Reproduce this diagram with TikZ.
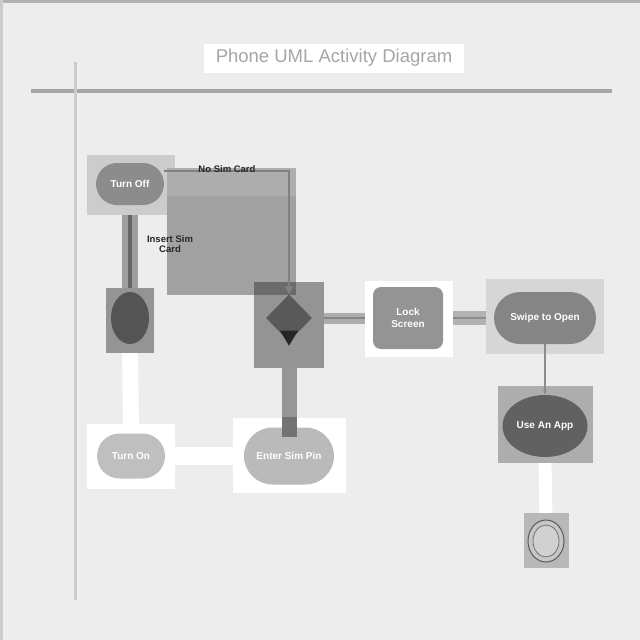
\documentclass[tikz,border=0pt]{standalone}
\usepackage{fontspec}
\setmainfont{Liberation Sans}
\usetikzlibrary{shapes.geometric,shapes.misc,arrows.meta,calc}
\pgfdeclarelayer{bg}
\pgfdeclarelayer{back}
\pgfsetlayers{bg,back,main}
\definecolor{bgc}{gray}{0.93}
\definecolor{c15}{gray}{0.15}
\definecolor{c33}{gray}{0.33}
\definecolor{c35}{gray}{0.35}
\definecolor{c38}{gray}{0.38}
\definecolor{c40}{gray}{0.40}
\definecolor{c42}{gray}{0.42}
\definecolor{c45}{gray}{0.45}
\definecolor{c50}{gray}{0.50}
\definecolor{c52}{gray}{0.52}
\definecolor{c55}{gray}{0.55}
\definecolor{c58}{gray}{0.58}
\definecolor{c59}{gray}{0.59}
\definecolor{c60}{gray}{0.60}
\definecolor{c62}{gray}{0.62}
\definecolor{c63}{gray}{0.63}
\definecolor{c65}{gray}{0.65}
\definecolor{c68}{gray}{0.68}
\definecolor{c70}{gray}{0.70}
\definecolor{c72}{gray}{0.72}
\definecolor{c73}{gray}{0.73}
\definecolor{c75}{gray}{0.75}
\definecolor{c78}{gray}{0.78}
\definecolor{c80}{gray}{0.80}
\definecolor{c82}{gray}{0.82}
\definecolor{c84}{gray}{0.84}
\begin{document}
\begin{tikzpicture}[x=1pt,y=-1pt,
  hl/.style={rectangle, inner sep=0pt, draw=none},
  nodetext/.style={text=white, font=\bfseries\fontsize{10}{12}\selectfont, align=center},
  pill/.style={rounded rectangle, inner sep=2pt, nodetext},
  lbl/.style={font=\bfseries\fontsize{9.5}{10}\selectfont, text=c15, align=center, inner sep=1pt}]
\useasboundingbox (0,0) rectangle (640,640);
\begin{pgfonlayer}{bg}
  \fill[bgc] (0,0) rectangle (640,640);
  \fill[c70] (0,0) rectangle (640,3);
  \fill[c80] (0,0) rectangle (3,640);
  \draw[c65, line width=4pt] (31,91) -- (612,91);
  \draw[c80, line width=3pt] (75,62) -- (75,600);
\end{pgfonlayer}

\node[fill=white, minimum width=260, minimum height=29, inner sep=0pt, text=c65,
      font=\fontsize{18.5}{21}\selectfont] (title) at (334,58) {Phone UML Activity Diagram};

% Turn Off
\node[hl, fill=c80, minimum width=88, minimum height=60] (offbox) at (131,185) {};
\node[pill, fill=c55, minimum width=72, minimum height=42] (off) at (130,184) {Turn Off};

% circle (decision)
\node[hl, fill=c58, minimum width=48, minimum height=65] (cbox) at (130,320) {};
\node[ellipse, fill=c33, minimum width=38, minimum height=52, inner sep=0pt] (circ) at (130,318) {};

% diamond
\node[hl, fill=c58, minimum width=70, minimum height=86] (dbox) at (289,325) {};
% big shaded rectangle
\fill[c63] (167,168) rectangle (296,295);
\fill[c68] (167,168) rectangle (296,196);
\fill[c42] (254,282) rectangle (296,295);
\node[diamond, fill=c35, minimum width=46, minimum height=47, inner sep=0pt] (dia) at (289,318) {};
\fill[c15] ($(dia.south)+(-9,-11)$) -- ++(18,0) -- ($(dia.south)+(0,4)$) -- cycle;

% Lock Screen
\node[hl, fill=white, minimum width=88, minimum height=76] (lbox) at (409,319) {};
\node[rectangle, rounded corners=8pt, fill=c58, minimum width=70, minimum height=62, nodetext] (lock) at (408,318) {Lock\\Screen};

% Swipe to Open
\node[hl, fill=c84, minimum width=118, minimum height=75] (sbox) at (545,316) {};
\node[pill, fill=c52, minimum width=106, minimum height=52] (swipe) at (545,318) {Swipe to Open};

% Use An App
\node[hl, fill=c68, minimum width=95, minimum height=77] (ubox) at (545,424) {};
\node[ellipse, fill=c38, minimum width=85, minimum height=62, inner sep=0pt, nodetext] (use) at (545,426) {Use An App};

% End
\node[hl, fill=c72, minimum width=45, minimum height=55] (ebox) at (546,540) {};
\node[ellipse, draw=c35, line width=1pt, fill=c78, minimum width=36, minimum height=42, inner sep=0pt] (endn) at (546,541) {};
\node[ellipse, draw=c45, line width=0.8pt, fill=c82, minimum width=26, minimum height=32, inner sep=0pt] (endi) at (endn) {};

% Turn On
\node[hl, fill=white, minimum width=88, minimum height=65] (onbox) at (131,456) {};
\node[pill, fill=c75, minimum width=72, minimum height=45] (on) at (131,456) {Turn On};

% Enter Sim Pin
\node[hl, fill=white, minimum width=113, minimum height=75] (pinbox) at (289,455) {};
\node[pill, fill=c73, minimum width=94, minimum height=57] (pin) at (289,456) {Enter Sim Pin};

% connectors behind
\begin{pgfonlayer}{back}
  \draw[c62, line width=16pt] (off.south) -- (circ.north);
  \draw[c40, line width=4pt] (off.south) -- (circ.north);
  \draw[white, line width=16pt] (circ.south) -- (on.north);
  \draw[white, line width=18pt] (on.east) -- (pin.west);
  \draw[c59, line width=15pt] (pin.north) -- (dia.south);
  \draw[c68, line width=11pt] (dia.east) -- (lock.west);
  \draw[c52, line width=2pt] (dia.east) -- (lock.west);
  \draw[c70, line width=14pt] (lock.east) -- (swipe.west);
  \draw[c55, line width=2pt] (lock.east) -- (swipe.west);
  \draw[white, line width=13pt] (use.south) -- (endn.north);
\end{pgfonlayer}

\draw[c45, line width=15pt] (pinbox.north) -- ([yshift=-10pt]pin.north);
\draw[c50, line width=2.5pt, -{Triangle[length=8pt,width=8pt]}] ([yshift=13pt]off.east) -| (dia.north);
\draw[c55, line width=1.5pt, -{Stealth[length=5pt]}] (swipe.south) -- (use.north);

\node[lbl] (nosim) at (227,169) {No Sim Card};
\node[lbl] (insert) at (170,244) {Insert Sim\\Card};
\end{tikzpicture}
\end{document}
